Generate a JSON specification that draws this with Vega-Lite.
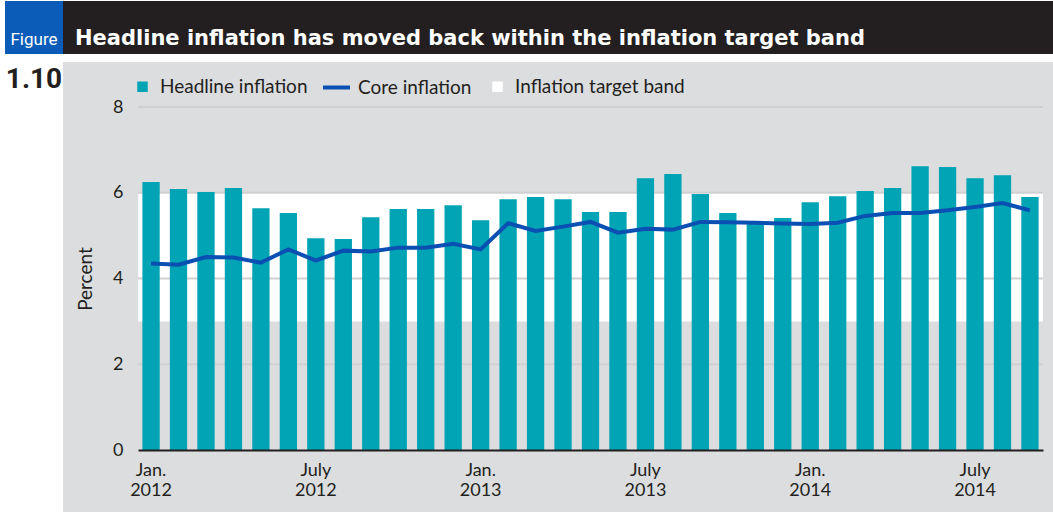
{
  "$schema": "https://vega.github.io/schema/vega-lite/v6.json",
  "background": "white",
  "padding": {"left": 5, "top": 1, "right": 0, "bottom": 0},
  "config": {"view": {"stroke": null}, "font": "Lato"},
  "spacing": 8,
  "vconcat": [
    {
      "spacing": 0,
      "bounds": "flush",
      "hconcat": [
        {
          "width": 58, "height": 53,
          "view": {"fill": "#0a5cb8", "stroke": null},
          "data": {"values": [{"t": "Figure"}]},
          "mark": {"type": "text", "color": "white", "font": "Roboto", "fontSize": 17, "baseline": "alphabetic", "dy": 17},
          "encoding": {"text": {"field": "t"}}
        },
        {
          "width": 990, "height": 53,
          "view": {"fill": "#231f20", "stroke": null},
          "data": {"values": [{"t": "Headline inflation has moved back within the inflation target band"}]},
          "mark": {"type": "text", "color": "white", "font": "DejaVu Sans", "fontWeight": "bold", "fontSize": 21, "align": "left", "baseline": "alphabetic", "dx": -483, "dy": 17},
          "encoding": {"text": {"field": "t"}}
        }
      ]
    },
    {
      "spacing": 0,
      "bounds": "flush",
      "hconcat": [
        {
          "width": 58, "height": 450,
          "view": {"fill": "white", "stroke": null},
          "data": {"values": [{"t": "1.10"}]},
          "mark": {"type": "text", "color": "#231f20", "font": "Roboto", "fontWeight": "bold", "fontSize": 28, "baseline": "alphabetic", "dy": -199},
          "encoding": {"text": {"field": "t"}}
        },
        {
          "width": 990, "height": 450,
          "view": {"fill": "#dcdddf", "stroke": null},
          "layer": [
            {
              "data": {"values": [{"lo": 3, "hi": 6}]},
              "mark": {"type": "rect"},
              "encoding": {
                "x": {"datum": "2012-01", "type": "ordinal", "bandPosition": -0.254},
                "x2": {"datum": "2014-09", "bandPosition": 1.254},
                "y": {"field": "lo", "type": "quantitative", "title": "Percent"},
                "y2": {"field": "hi"},
                "fill": {"datum": "Inflation target band", "type": "nominal"}
              }
            },
            {
              "data": {"values": [{"v": 2}, {"v": 4}, {"v": 6}, {"v": 8}]},
              "mark": {"type": "rule", "color": "#cfd0d2", "strokeWidth": 2},
              "encoding": {
                "x": {"datum": "2012-01", "type": "ordinal", "bandPosition": -0.254},
                "x2": {"datum": "2014-09", "bandPosition": 1.254},
                "y": {"field": "v", "type": "quantitative", "title": "Percent"}
              }
            },
            {
              "data": {"values": [
                {"month": "2012-01", "headline": 6.25, "core": 4.35},
                {"month": "2012-02", "headline": 6.09, "core": 4.32},
                {"month": "2012-03", "headline": 6.02, "core": 4.50},
                {"month": "2012-04", "headline": 6.11, "core": 4.49},
                {"month": "2012-05", "headline": 5.64, "core": 4.37},
                {"month": "2012-06", "headline": 5.53, "core": 4.68},
                {"month": "2012-07", "headline": 4.94, "core": 4.42},
                {"month": "2012-08", "headline": 4.92, "core": 4.65},
                {"month": "2012-09", "headline": 5.43, "core": 4.63},
                {"month": "2012-10", "headline": 5.62, "core": 4.72},
                {"month": "2012-11", "headline": 5.62, "core": 4.72},
                {"month": "2012-12", "headline": 5.71, "core": 4.81},
                {"month": "2013-01", "headline": 5.36, "core": 4.68},
                {"month": "2013-02", "headline": 5.85, "core": 5.29},
                {"month": "2013-03", "headline": 5.90, "core": 5.11},
                {"month": "2013-04", "headline": 5.85, "core": 5.21},
                {"month": "2013-05", "headline": 5.55, "core": 5.32},
                {"month": "2013-06", "headline": 5.55, "core": 5.07},
                {"month": "2013-07", "headline": 6.34, "core": 5.16},
                {"month": "2013-08", "headline": 6.44, "core": 5.14},
                {"month": "2013-09", "headline": 5.97, "core": 5.32},
                {"month": "2013-10", "headline": 5.53, "core": 5.31},
                {"month": "2013-11", "headline": 5.33, "core": 5.30},
                {"month": "2013-12", "headline": 5.41, "core": 5.28},
                {"month": "2014-01", "headline": 5.78, "core": 5.27},
                {"month": "2014-02", "headline": 5.92, "core": 5.30},
                {"month": "2014-03", "headline": 6.04, "core": 5.46},
                {"month": "2014-04", "headline": 6.11, "core": 5.53},
                {"month": "2014-05", "headline": 6.62, "core": 5.53},
                {"month": "2014-06", "headline": 6.60, "core": 5.59},
                {"month": "2014-07", "headline": 6.34, "core": 5.67},
                {"month": "2014-08", "headline": 6.41, "core": 5.76},
                {"month": "2014-09", "headline": 5.90, "core": 5.59}
              ]},
              "encoding": {
                "x": {
                  "field": "month", "type": "ordinal", "sort": null,
                  "scale": {
                    "domain": ["2012-01","2012-02","2012-03","2012-04","2012-05","2012-06","2012-07","2012-08","2012-09","2012-10","2012-11","2012-12","2013-01","2013-02","2013-03","2013-04","2013-05","2013-06","2013-07","2013-08","2013-09","2013-10","2013-11","2013-12","2014-01","2014-02","2014-03","2014-04","2014-05","2014-06","2014-07","2014-08","2014-09"],
                    "range": [75, 980], "paddingInner": 0.37, "paddingOuter": 0.16
                  },
                  "axis": {
                    "orient": "bottom", "offset": -62, "title": null, "bandPosition": 0.5,
                    "values": ["2012-01", "2012-07", "2013-01", "2013-07", "2014-01", "2014-07"],
                    "labelExpr": "[substring(datum.value, 5, 7) == '01' ? 'Jan.' : 'July', substring(datum.value, 0, 4)]",
                    "labelAngle": 0, "labelAlign": "center", "ticks": false, "grid": false,
                    "domainColor": "#231f20", "domainWidth": 2,
                    "labelFont": "Lato", "labelFontSize": 18, "labelColor": "#231f20",
                    "labelLineHeight": 20, "labelPadding": 11, "labelBaseline": "top"
                  }
                }
              },
              "layer": [
                {
                  "mark": {"type": "bar"},
                  "encoding": {
                    "y": {
                      "field": "headline", "type": "quantitative", "title": "Percent",
                      "scale": {"domain": [0, 8], "range": [388, 45], "nice": false},
                      "axis": {
                        "orient": "left", "offset": -75, "values": [0, 2, 4, 6, 8], "format": "d",
                        "domain": false, "ticks": false, "grid": false,
                        "labelFont": "Lato", "labelFontSize": 18, "labelColor": "#231f20", "labelPadding": 15,
                        "titleFont": "Lato", "titleFontSize": 19, "titleFontWeight": "normal", "titleColor": "#231f20", "titlePadding": 17
                      }
                    },
                    "fill": {
                      "datum": "Headline inflation", "type": "nominal",
                      "scale": {"domain": ["Headline inflation", "Inflation target band"], "range": ["#00a4b5", "#ffffff"]},
                      "legend": {
                        "orient": "none", "legendX": 128, "legendY": 76, "direction": "horizontal", "title": null,
                        "symbolType": "square", "symbolSize": 110, "symbolStrokeWidth": 0,
                        "labelFont": "Lato", "labelFontSize": 19, "labelColor": "#231f20", "labelOffset": 8, "labelLimit": 0,
                        "columnPadding": 180
                      }
                    }
                  }
                },
                {
                  "mark": {"type": "line", "strokeWidth": 4},
                  "encoding": {
                    "y": {"field": "core", "type": "quantitative", "title": "Percent"},
                    "stroke": {
                      "datum": "Core inflation", "type": "nominal",
                      "scale": {"domain": ["Core inflation"], "range": ["#0a50b2"]},
                      "legend": {
                        "orient": "none", "legendX": 316, "legendY": 71, "direction": "horizontal", "title": null,
                        "symbolType": "stroke", "symbolSize": 729, "symbolStrokeWidth": 4,
                        "labelFont": "Lato", "labelFontSize": 19, "labelColor": "#231f20", "labelOffset": 6, "labelLimit": 0
                      }
                    }
                  }
                }
              ]
            }
          ]
        }
      ]
    }
  ]
}
